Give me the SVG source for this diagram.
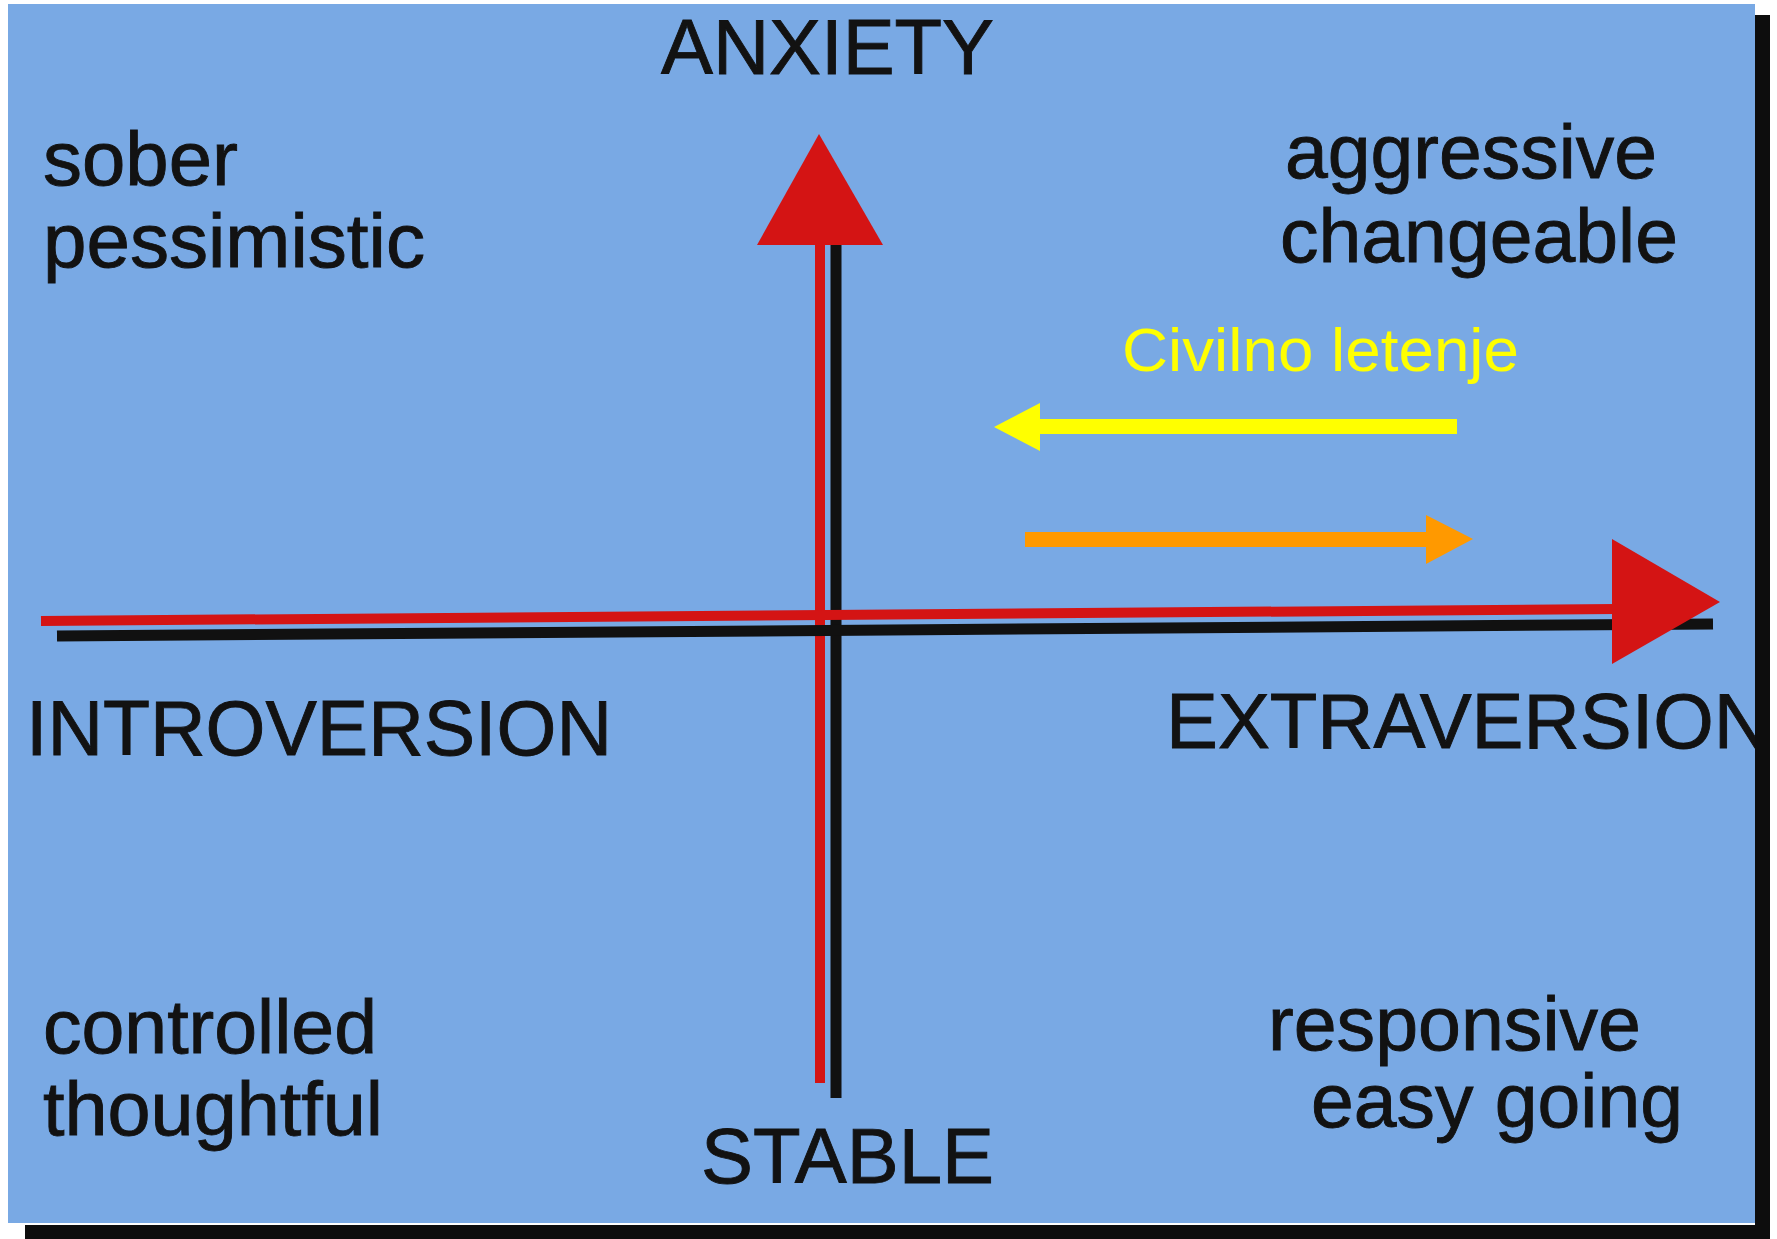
<svg xmlns="http://www.w3.org/2000/svg" width="1777" height="1239" viewBox="0 0 1777 1239">
  <style>
    .lbl { font-family: "Liberation Sans", Arial, sans-serif; fill: #121212; stroke: #121212; stroke-width: 0.9px; }
    .cap { font-size: 78px; }
    .low { font-size: 76px; }
    .red { stroke: #d41414; fill: none; }
    .blk { stroke: #111111; fill: none; }
    .head { fill: #d41414; }
  </style>
  <rect x="0" y="0" width="1777" height="1239" fill="#ffffff"/>
  <g id="background">
    <rect x="8" y="4" width="1747" height="1219" fill="#79a9e4"/>
    <rect x="1755" y="15" width="15" height="1224" fill="#0d0d0d"/>
    <rect x="25" y="1225" width="1745" height="14" fill="#0d0d0d"/>
  </g>
  <g id="connectors">
    <g id="axis-vertical">
      <line class="blk" x1="836" y1="240" x2="836" y2="1098" stroke-width="11"/>
      <line class="red" x1="820" y1="240" x2="820" y2="1083" stroke-width="10"/>
      <polygon class="head" points="819,134 757,245 883,245"/>
    </g>
    <g id="axis-horizontal">
      <line class="blk" x1="57" y1="636" x2="1713" y2="624" stroke-width="11"/>
      <line class="red" x1="41" y1="621" x2="1616" y2="609" stroke-width="10"/>
      <polygon class="head" points="1612,539 1720,602 1612,664"/>
    </g>
    <g id="arrow-yellow">
      <rect x="1038" y="419" width="419" height="15" fill="#ffff00"/>
      <polygon points="994,427 1040,403 1040,451" fill="#ffff00"/>
    </g>
    <g id="arrow-orange">
      <rect x="1025" y="532" width="403" height="15" fill="#ff9900"/>
      <polygon points="1473,539 1426,515 1426,564" fill="#ff9900"/>
    </g>
  </g>
  <g id="label-anxiety"><text class="lbl cap" x="661" y="74" font-size="79" textLength="333" lengthAdjust="spacingAndGlyphs">ANXIETY</text></g>
  <g id="label-stable"><text class="lbl cap" x="701" y="1183" textLength="293" lengthAdjust="spacingAndGlyphs">STABLE</text></g>
  <g id="label-introversion"><text class="lbl cap" x="26" y="755" textLength="586" lengthAdjust="spacingAndGlyphs">INTROVERSION</text></g>
  <g id="label-extraversion"><text class="lbl cap" x="1166" y="748" textLength="604" lengthAdjust="spacingAndGlyphs">EXTRAVERSION</text></g>
  <g id="quadrant-top-left">
    <text class="lbl low" x="43" y="185" textLength="195" lengthAdjust="spacingAndGlyphs">sober</text>
    <text class="lbl low" x="43" y="267" textLength="382" lengthAdjust="spacingAndGlyphs">pessimistic</text>
  </g>
  <g id="quadrant-top-right">
    <text class="lbl low" x="1285" y="178" textLength="372" lengthAdjust="spacingAndGlyphs">aggressive</text>
    <text class="lbl low" x="1280" y="262" textLength="398" lengthAdjust="spacingAndGlyphs">changeable</text>
  </g>
  <g id="quadrant-bottom-left">
    <text class="lbl low" x="43" y="1053" textLength="334" lengthAdjust="spacingAndGlyphs">controlled</text>
    <text class="lbl low" x="43" y="1135" textLength="340" lengthAdjust="spacingAndGlyphs">thoughtful</text>
  </g>
  <g id="quadrant-bottom-right">
    <text class="lbl low" x="1268" y="1050" textLength="373" lengthAdjust="spacingAndGlyphs">responsive</text>
    <text class="lbl low" x="1311" y="1127" textLength="372" lengthAdjust="spacingAndGlyphs">easy going</text>
  </g>
  <g id="label-civilno">
    <text x="1122" y="371" font-family="'Liberation Sans', Arial, sans-serif" font-size="62" fill="#ffff00" textLength="397" lengthAdjust="spacingAndGlyphs">Civilno letenje</text>
  </g>
  <rect x="1755" y="15" width="15" height="1224" fill="#0d0d0d"/>
</svg>
